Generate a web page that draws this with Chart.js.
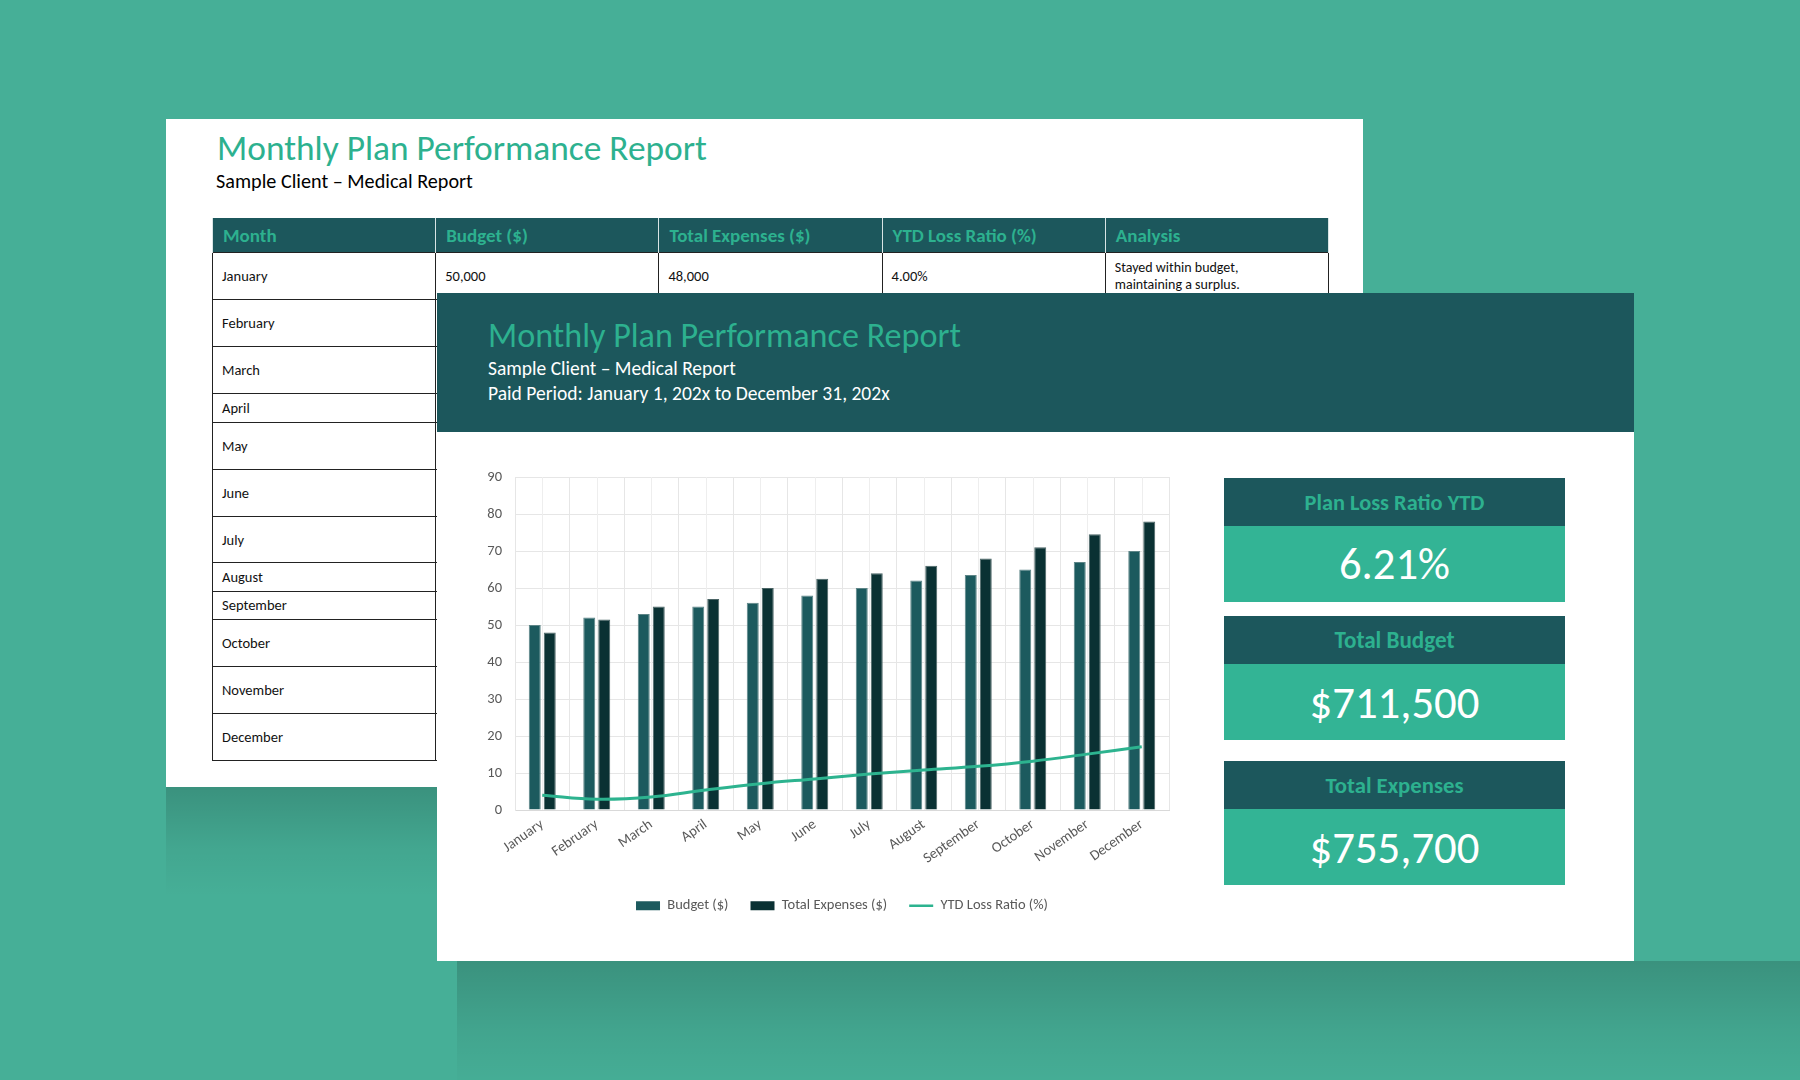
<!DOCTYPE html>
<html>
<head>
<meta charset="utf-8">
<script src="https://cdn.jsdelivr.net/npm/chart.js@4.4.1/dist/chart.umd.min.js"></script>
<style>
  html, body { margin:0; padding:0; }
  body { width:1800px; height:1080px; background:#46AF97; position:relative; overflow:hidden;
         font-family: Carlito, Calibri, Lato, "Open Sans", sans-serif; }
  .abs { position:absolute; }
  .txt { position:absolute; white-space:nowrap; line-height:1.2; }
  #backPage { left:166px; top:119px; width:1197px; height:668px; background:#fff; }
  #backShadow { left:166px; top:787px; width:271px; height:110px;
     background:linear-gradient(to bottom, rgba(0,0,0,0.17), rgba(0,0,0,0.05) 55%, rgba(0,0,0,0)); }
  #frontShadow { left:457px; top:961px; width:1343px; height:119px;
     background:linear-gradient(to bottom, rgba(0,0,0,0.17), rgba(0,0,0,0.06) 60%, rgba(0,0,0,0.01)); }
  #frontCard { left:437px; top:293px; width:1197px; height:668px; background:#fff; }
  #frontHeader { left:437px; top:293px; width:1197px; height:139px; background:#1C575C; }
  table.rep { position:absolute; left:212px; top:218px; border-collapse:collapse; table-layout:fixed; width:1116px; }
  table.rep th { background:#1C575C; color:#2DB18F; font-weight:700; font-size:19px; text-align:left;
     padding:0 0 0 10px; height:34px; border-left:1px solid #d8e4e4; border-right:1px solid #d8e4e4; }
  table.rep td { border:1.5px solid #222; font-size:14.5px; color:#111; padding:0 0 0 9px; vertical-align:middle; }
  .kpiHead { position:absolute; background:#1C575C; color:#2DB18F; font-weight:700; display:flex;
     align-items:center; justify-content:center; }
  .kpiBody { position:absolute; background:#33B495; color:#fff; display:flex; align-items:center; justify-content:center; }
  .kpiHead span, .kpiBody span { white-space:nowrap; display:inline-block; }
  #chartBox { position:absolute; left:460px; top:440px; width:740px; height:521px; }
</style>
</head>
<body>
<div id="backPage" class="abs"></div>
<div id="backShadow" class="abs"></div>
<div id="frontShadow" class="abs"></div>
<div id="tableHolder"></div>
<div id="frontCard" class="abs"></div>
<div id="frontHeader" class="abs"></div>
<div id="texts"></div>
<div id="kpis"></div>
<div id="chartBox"><canvas id="chart"></canvas></div>

<script>
// ---------- DATA ----------
const months = ["January","February","March","April","May","June","July","August","September","October","November","December"];
const budget = [50, 52, 53, 55, 56, 58, 60, 62, 63.5, 65, 67, 70];
const expenses = [48, 51.5, 55, 57, 60, 62.5, 64, 66, 68, 71, 74.5, 78];
const ytdLossRatio = [4.0, 2.9, 3.5, 5.4, 7.1, 8.4, 9.7, 10.8, 11.8, 13.2, 15.1, 17.1];
const seriesNames = ["Budget ($)", "Total Expenses ($)", "YTD Loss Ratio (%)"];
const yMin = 0, yMax = 90, yStep = 10;

const kpiTitles = ["Plan Loss Ratio YTD", "Total Budget", "Total Expenses"];
const kpiValues = ["6.21%", "$711,500", "$755,700"];

const tableHeaders = ["Month", "Budget ($)", "Total Expenses ($)", "YTD Loss Ratio (%)", "Analysis"];
const firstRow = ["January", "50,000", "48,000", "4.00%", "Stayed within budget,<br>maintaining a surplus."];

const reportTitle = "Monthly Plan Performance Report";
const clientLine = "Sample Client \u2013 Medical Report";
const periodLine = "Paid Period: January 1, 202x to December 31, 202x";

// ---------- COLOURS ----------
const cBudget = "#1C5A5E", cExp = "#0A3133", cLine = "#2DB38F", cTick = "#595959";

// ---------- BACK TABLE ----------
const rowHeights = [47, 47, 47, 29, 47, 47, 46, 29, 27.5, 47, 47, 47];
(function buildTable(){
  let h = '<table class="rep"><colgroup>' + tableHeaders.map(()=>'<col style="width:223.2px">').join('') + '</colgroup>';
  h += '<tr>' + tableHeaders.map(t=>'<th>'+t+'</th>').join('') + '</tr>';
  months.forEach((m,i)=>{
    h += '<tr style="height:'+rowHeights[i]+'px">';
    for (let c=0;c<5;c++){
      let content = c===0 ? m : (i===0 ? firstRow[c] : '');
      let st = (c===4 && i===0) ? ' style="font-size:14px;line-height:1.25"' : '';
      h += '<td'+st+'>'+content+'</td>';
    }
    h += '</tr>';
  });
  h += '</table>';
  document.getElementById('tableHolder').innerHTML = h;
})();

// ---------- TEXT helpers ----------
function placeText(str, x, baseline, width, opts){
  const el = document.createElement('div');
  el.className = 'txt';
  el.innerHTML = str;
  el.style.left = x + 'px';
  el.style.top = '0px';
  el.style.fontSize = (opts.size||20) + 'px';
  el.style.color = opts.color || '#000';
  el.style.fontWeight = opts.weight || 400;
  document.getElementById('texts').appendChild(el);
  const w0 = el.getBoundingClientRect().width;
  el.style.fontSize = ((opts.size||20) * width / w0) + 'px';
  const probe = document.createElement('span');
  probe.style.display='inline-block'; probe.style.width='0'; probe.style.height='0';
  el.appendChild(probe);
  const off = probe.offsetTop;
  el.style.top = (baseline - off) + 'px';
  return el;
}
function fitSpan(span, width){
  const w0 = span.getBoundingClientRect().width;
  const fs = parseFloat(getComputedStyle(span).fontSize);
  span.style.fontSize = (fs * width / w0) + 'px';
}

placeText(reportTitle, 217, 160, 490, {size:36, color:'#2DB18F'});
placeText(clientLine, 216, 187.5, 257, {size:20, color:'#000'});
placeText(reportTitle, 488, 347, 473, {size:36, color:'#2DB18F'});
placeText(clientLine, 488, 375, 248, {size:19, color:'#fff'});
placeText(periodLine, 488, 399.5, 402, {size:19, color:'#fff'});

// ---------- KPI cards ----------
const kpiTops = [478, 616, 761];
const kpiTitleW = [180, 120, 138];
const kpiValW = [111, 170, 170];
(function buildKpis(){
  const holder = document.getElementById('kpis');
  kpiTitles.forEach((t,i)=>{
    const hd = document.createElement('div');
    hd.className='kpiHead';
    hd.style.cssText += `left:1224px;top:${kpiTops[i]}px;width:341px;height:48px;font-size:20px;`;
    hd.innerHTML = '<span>'+t+'</span>';
    const bd = document.createElement('div');
    bd.className='kpiBody';
    bd.style.cssText += `left:1224px;top:${kpiTops[i]+48}px;width:341px;height:76px;font-size:42px;`;
    bd.innerHTML = '<span>'+kpiValues[i]+'</span>';
    holder.appendChild(hd); holder.appendChild(bd);
    fitSpan(hd.firstChild, kpiTitleW[i]);
    fitSpan(bd.firstChild, kpiValW[i]);
  });
})();

// ---------- CHART ----------
Chart.defaults.font.family = 'Carlito, Calibri, Lato, "Open Sans", sans-serif';
Chart.defaults.color = cTick;
const fs = 14.5;

const centerLines = {
  id: 'centerLines',
  beforeDatasetsDraw(chart){
    const {ctx, chartArea, scales:{x}} = chart;
    ctx.save();
    ctx.strokeStyle = '#eeeeee';
    ctx.lineWidth = 1;
    months.forEach((m,i)=>{
      const px = Math.round(x.getPixelForValue(i)) + 0.5;
      ctx.beginPath(); ctx.moveTo(px, chartArea.top); ctx.lineTo(px, chartArea.bottom); ctx.stroke();
    });
    ctx.restore();
  }
};

new Chart(document.getElementById('chart'), {
  type: 'bar',
  data: {
    labels: months,
    datasets: [
      { label: seriesNames[0], data: budget, backgroundColor: cBudget, borderColor: '#5d8587', borderWidth: 1,
        categoryPercentage: 0.55, barPercentage: 0.8, order: 1 },
      { label: seriesNames[1], data: expenses, backgroundColor: cExp, borderColor: '#4a6465', borderWidth: 1,
        categoryPercentage: 0.55, barPercentage: 0.8, order: 2 },
      { type: 'line', label: seriesNames[2], data: ytdLossRatio, borderColor: cLine, backgroundColor: cLine,
        borderWidth: 3, tension: 0.4, pointRadius: 0, fill: false, order: -1 }
    ]
  },
  options: {
    responsive: true, maintainAspectRatio: false, animation: false,
    layout: { padding: { left: 11, right: 31, top: 37, bottom: 38 } },
    plugins: {
      tooltip: { enabled: false },
      legend: {
        position: 'bottom', fullSize: false,
        labels: {
          color: cTick, font: { size: fs }, padding: 22,
          usePointStyle: true, pointStyleWidth: 24, boxHeight: 9,
          sort: (a,b) => a.datasetIndex - b.datasetIndex,
          generateLabels(chart){
            const items = Chart.defaults.plugins.legend.labels.generateLabels(chart);
            items.forEach(it => {
              if (it.datasetIndex === 2) { it.pointStyle = 'line'; it.lineWidth = 2.5; it.strokeStyle = cLine; }
              else { it.pointStyle = 'rect'; it.lineWidth = 0; }
            });
            return items;
          }
        }
      }
    },
    scales: {
      x: {
        offset: true,
        grid: { offset: true, color: '#e6e6e6', drawTicks: false },
        border: { color: '#d9d9d9' },
        ticks: { color: cTick, font: { size: fs }, minRotation: 35, maxRotation: 35, padding: 6, autoSkip: false },
        afterFit(s){ s.height = 66.5; }
      },
      y: {
        min: yMin, max: yMax,
        grid: { color: '#e6e6e6', drawTicks: false },
        border: { color: '#e6e6e6' },
        ticks: { stepSize: yStep, color: cTick, font: { size: fs }, padding: 13 },
        afterFit(s){ s.width = 44; }
      }
    }
  },
  plugins: [centerLines]
});
</script>
</body>
</html>
